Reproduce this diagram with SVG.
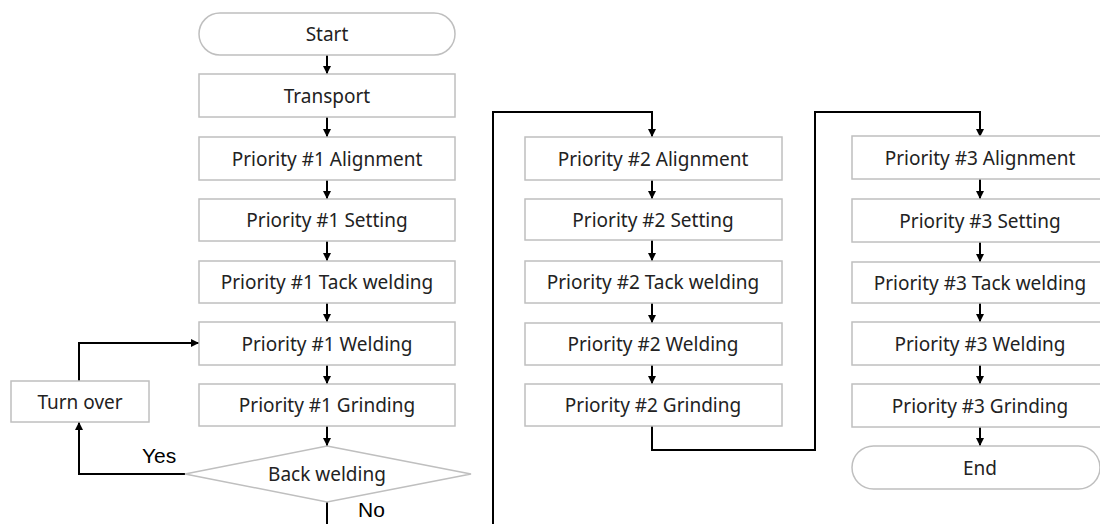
<svg xmlns="http://www.w3.org/2000/svg" width="1100" height="524" viewBox="0 0 1100 524">
<style>
.box{fill:#ffffff;stroke:#bfbfbf;stroke-width:1.5}
.t{font-family:"Noto Sans","Open Sans",sans-serif;font-size:19px;fill:#222222;text-anchor:middle;dominant-baseline:central}
.lbl{font-family:"Liberation Sans",Arial,sans-serif;font-size:21px;fill:#000000}
.c{fill:none;stroke:#000000;stroke-width:2}
</style>
<defs>
<marker id="ah" markerUnits="userSpaceOnUse" markerWidth="8" markerHeight="8" refX="8" refY="4" orient="auto">
<path d="M0,0 L8,4 L0,8 z" fill="#000000"/>
</marker>
</defs>
<rect width="1100" height="524" fill="#ffffff"/>
<g id="connectors">
<path class="c" marker-end="url(#ah)" d="M327,55 V74"/>
<path class="c" marker-end="url(#ah)" d="M327,117 V137"/>
<path class="c" marker-end="url(#ah)" d="M327,180 V199"/>
<path class="c" marker-end="url(#ah)" d="M327,241 V261"/>
<path class="c" marker-end="url(#ah)" d="M327,303 V322"/>
<path class="c" marker-end="url(#ah)" d="M327,365 V384"/>
<path class="c" marker-end="url(#ah)" d="M327,426 V446"/>
<path class="c" marker-end="url(#ah)" d="M185,474 H79 V422"/>
<path class="c" marker-end="url(#ah)" d="M79,381 V343 H199"/>
<path class="c" marker-end="url(#ah)" d="M327,502 V532 H493 V112 H652 V137"/>
<path class="c" marker-end="url(#ah)" d="M652,180 V199"/>
<path class="c" marker-end="url(#ah)" d="M652,240 V261"/>
<path class="c" marker-end="url(#ah)" d="M652,303 V323"/>
<path class="c" marker-end="url(#ah)" d="M652,365 V384"/>
<path class="c" marker-end="url(#ah)" d="M652,426 V450 H815 V112 H980 V137"/>
<path class="c" marker-end="url(#ah)" d="M980,179 V199"/>
<path class="c" marker-end="url(#ah)" d="M980,242 V262"/>
<path class="c" marker-end="url(#ah)" d="M980,303 V322"/>
<path class="c" marker-end="url(#ah)" d="M980,365 V384"/>
<path class="c" marker-end="url(#ah)" d="M980,427 V446"/>
</g>
<g id="labels">
<text class="lbl" x="142" y="463">Yes</text>
<text class="lbl" x="358" y="517">No</text>
</g>
<g id="start"><rect class="box" x="199" y="13" width="256" height="42" rx="21"/><text class="t" x="327" y="34">Start</text></g>
<g id="transport"><rect class="box" x="199" y="74" width="256" height="43"/><text class="t" x="327" y="95.5">Transport</text></g>
<g id="p1-align"><rect class="box" x="199" y="137" width="256" height="43"/><text class="t" x="327" y="158.5">Priority #1 Alignment</text></g>
<g id="p1-set"><rect class="box" x="199" y="199" width="256" height="42"/><text class="t" x="327" y="220">Priority #1 Setting</text></g>
<g id="p1-tack"><rect class="box" x="199" y="261" width="256" height="42"/><text class="t" x="327" y="282">Priority #1 Tack welding</text></g>
<g id="p1-weld"><rect class="box" x="199" y="322" width="256" height="43"/><text class="t" x="327" y="343.5">Priority #1 Welding</text></g>
<g id="p1-grind"><rect class="box" x="199" y="384" width="256" height="42"/><text class="t" x="327" y="405">Priority #1 Grinding</text></g>
<g id="back-welding"><polygon class="box" points="327,446 471,474 327,502 185,474"/><text class="t" x="327" y="474">Back welding</text></g>
<g id="turn-over"><rect class="box" x="11" y="381" width="138" height="41"/><text class="t" x="80" y="401.5">Turn over</text></g>
<g id="p2-align"><rect class="box" x="525" y="137" width="257" height="43"/><text class="t" x="653" y="158.5">Priority #2 Alignment</text></g>
<g id="p2-set"><rect class="box" x="525" y="199" width="257" height="41"/><text class="t" x="653" y="219.5">Priority #2 Setting</text></g>
<g id="p2-tack"><rect class="box" x="525" y="261" width="257" height="42"/><text class="t" x="653" y="282">Priority #2 Tack welding</text></g>
<g id="p2-weld"><rect class="box" x="525" y="323" width="257" height="42"/><text class="t" x="653" y="344">Priority #2 Welding</text></g>
<g id="p2-grind"><rect class="box" x="525" y="384" width="257" height="42"/><text class="t" x="653" y="405">Priority #2 Grinding</text></g>
<g id="p3-align"><rect class="box" x="852" y="136" width="256" height="43"/><text class="t" x="980" y="157.5">Priority #3 Alignment</text></g>
<g id="p3-set"><rect class="box" x="852" y="199" width="256" height="43"/><text class="t" x="980" y="220.5">Priority #3 Setting</text></g>
<g id="p3-tack"><rect class="box" x="852" y="262" width="256" height="41"/><text class="t" x="980" y="282.5">Priority #3 Tack welding</text></g>
<g id="p3-weld"><rect class="box" x="852" y="322" width="256" height="43"/><text class="t" x="980" y="343.5">Priority #3 Welding</text></g>
<g id="p3-grind"><rect class="box" x="852" y="384" width="256" height="43"/><text class="t" x="980" y="405.5">Priority #3 Grinding</text></g>
<g id="end"><rect class="box" x="852" y="446" width="248" height="43" rx="21.5"/><text class="t" x="980" y="467.5">End</text></g>
</svg>
